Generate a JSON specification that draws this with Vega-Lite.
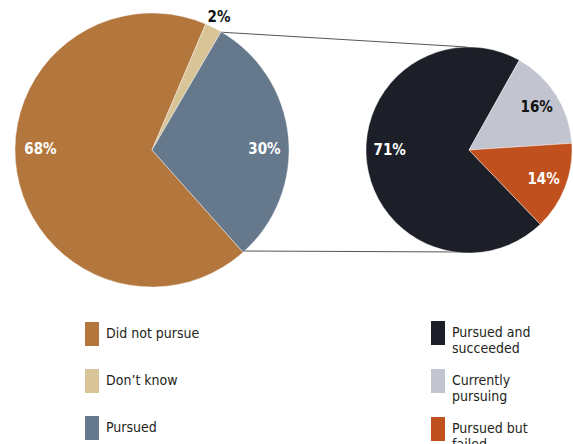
{
  "$schema": "https://vega.github.io/schema/vega-lite/v6.json",
  "width": 573,
  "height": 444,
  "autosize": "none",
  "padding": 0,
  "config": {
    "view": {"stroke": null},
    "font": "DejaVu Sans Condensed, sans-serif"
  },
  "datasets": {
    "left": [
      {"cat": "Did not pursue", "share": 0.68},
      {"cat": "Don’t know", "share": 0.02},
      {"cat": "Pursued", "share": 0.30}
    ],
    "right": [
      {"cat": "Pursued and succeeded", "share": 0.71},
      {"cat": "Currently pursuing", "share": 0.16},
      {"cat": "Pursued but failed", "share": 0.14}
    ],
    "connectors": [
      {"x": 218, "y": 32, "x2": 467, "y2": 47},
      {"x": 242, "y": 251, "x2": 467, "y2": 252}
    ]
  },
  "layer": [
    {
      "data": {"name": "connectors"},
      "mark": {"type": "rule", "color": "#2b2b2b", "strokeWidth": 0.8},
      "encoding": {
        "x": {"field": "x", "type": "quantitative", "scale": {"domain": [0, 573], "nice": false, "zero": false}, "axis": null},
        "y": {"field": "y", "type": "quantitative", "scale": {"domain": [0, 444], "reverse": true, "nice": false, "zero": false}, "axis": null},
        "x2": {"field": "x2"},
        "y2": {"field": "y2"}
      }
    },
    {
      "data": {"name": "left"},
      "transform": [{"window": [{"op": "row_number", "as": "idx"}]}],
      "encoding": {
        "x": {"datum": 152, "type": "quantitative", "scale": {"domain": [0, 573], "nice": false, "zero": false}, "axis": null},
        "y": {"datum": 150, "type": "quantitative", "scale": {"domain": [0, 444], "reverse": true, "nice": false, "zero": false}, "axis": null},
        "theta": {"field": "share", "type": "quantitative", "stack": true, "scale": {"range": [2.414, 8.697]}},
        "order": {"field": "idx", "type": "quantitative"}
      },
      "layer": [
        {
          "mark": {"type": "arc", "radius": 137, "stroke": "#ffffff", "strokeWidth": 0.4},
          "encoding": {
            "color": {
              "field": "cat",
              "type": "nominal",
              "scale": {
                "domain": ["Did not pursue", "Don’t know", "Pursued"],
                "range": ["#b3773e", "#d9c498", "#65788c"]
              },
              "legend": {
                "title": null,
                "orient": "none",
                "legendX": 80,
                "legendY": 322,
                "direction": "vertical",
                "symbolType": "M-0.5833,-1H0.5833V1H-0.5833Z",
                "symbolSize": 576,
                "symbolStrokeWidth": 0,
                "symbolOpacity": 1,
                "labelFont": "DejaVu Sans Condensed, sans-serif",
                "labelFontSize": 14,
                "labelColor": "#231f20",
                "labelOffset": 2,
                "rowPadding": 23,
                "labelLimit": 300,
                "padding": 0
              }
            }
          }
        },
        {
          "mark": {
            "type": "text",
            "radius": {"expr": "datum.cat === 'Don’t know' ? 149 : 113"},
            "dy": {"expr": "datum.cat === 'Did not pursue' ? -19 : datum.cat === 'Pursued' ? 10 : 0"},
            "fill": {"expr": "datum.cat === 'Don’t know' ? '#111111' : '#ffffff'"},
            "fontWeight": "bold",
            "fontSize": 15,
            "font": "DejaVu Sans Condensed, sans-serif"
          },
          "encoding": {
            "text": {"field": "share", "type": "quantitative", "format": ".0%"}
          }
        }
      ]
    },
    {
      "data": {"name": "right"},
      "transform": [{"window": [{"op": "row_number", "as": "idx"}]}],
      "encoding": {
        "x": {"datum": 469, "type": "quantitative", "scale": {"domain": [0, 573], "nice": false, "zero": false}, "axis": null},
        "y": {"datum": 150, "type": "quantitative", "scale": {"domain": [0, 444], "reverse": true, "nice": false, "zero": false}, "axis": null},
        "theta": {"field": "share", "type": "quantitative", "stack": true, "scale": {"range": [2.377, 8.660]}},
        "order": {"field": "idx", "type": "quantitative"}
      },
      "layer": [
        {
          "mark": {"type": "arc", "radius": 103, "stroke": "#ffffff", "strokeWidth": 0.4},
          "encoding": {
            "fill": {
              "field": "cat",
              "type": "nominal",
              "scale": {
                "domain": ["Pursued and succeeded", "Currently pursuing", "Pursued but failed"],
                "range": ["#1c1f27", "#c2c5cf", "#c0501e"]
              },
              "legend": {
                "title": null,
                "orient": "none",
                "legendX": 426,
                "legendY": 321,
                "direction": "vertical",
                "symbolType": "M-0.5833,-1H0.5833V1H-0.5833Z",
                "symbolSize": 576,
                "symbolStrokeWidth": 0,
                "symbolOpacity": 1,
                "labelFont": "DejaVu Sans Condensed, sans-serif",
                "labelFontSize": 14,
                "labelColor": "#231f20",
                "labelOffset": 2,
                "rowPadding": 13,
                "labelLimit": 300,
                "padding": 0,
                "labelExpr": "[substring(datum.label, 0, lastindexof(datum.label, ' ')), substring(datum.label, lastindexof(datum.label, ' ') + 1)]",
                "encode": {"labels": {"update": {"lineHeight": {"value": 18}}}}
              }
            }
          }
        },
        {
          "mark": {
            "type": "text",
            "radius": 80,
            "dy": {"expr": "datum.cat === 'Pursued and succeeded' ? -10 : 0"},
            "fill": {"expr": "datum.cat === 'Currently pursuing' ? '#111111' : '#ffffff'"},
            "fontWeight": "bold",
            "fontSize": 15,
            "font": "DejaVu Sans Condensed, sans-serif"
          },
          "encoding": {
            "text": {"field": "share", "type": "quantitative", "format": ".0%"}
          }
        }
      ]
    }
  ],
  "resolve": {"scale": {"theta": "independent"}}
}
